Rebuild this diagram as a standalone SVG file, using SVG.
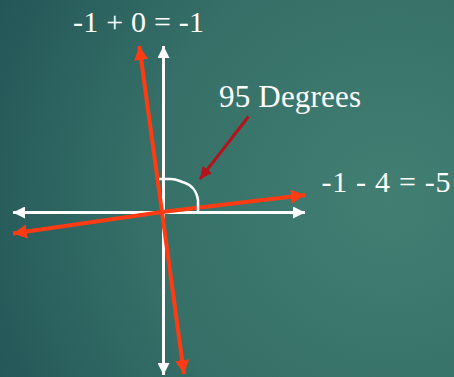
<svg xmlns="http://www.w3.org/2000/svg" width="454" height="377" viewBox="0 0 454 377">
<defs>
<radialGradient id="bg" cx="390" cy="200" r="500" gradientUnits="userSpaceOnUse">
<stop offset="0" stop-color="#427F72"/>
<stop offset="0.5" stop-color="#356F67"/>
<stop offset="1" stop-color="#1D4E53"/>
</radialGradient>
<marker id="wh" markerUnits="userSpaceOnUse" markerWidth="14" markerHeight="12" refX="12" refY="6" orient="auto">
<path d="M0,0 L12,6 L0,12 Z" fill="#FFFFFF"/>
</marker>
<marker id="rh" markerUnits="userSpaceOnUse" markerWidth="16" markerHeight="14" refX="14" refY="7" orient="auto">
<path d="M0,0 L14,7 L0,14 Z" fill="#FF3B14"/>
</marker>
<marker id="dh" markerUnits="userSpaceOnUse" markerWidth="14" markerHeight="12" refX="12" refY="6" orient="auto">
<path d="M0,0 L12,6 L0,12 Z" fill="#B3141C"/>
</marker>
<style>
.ax{stroke:#FFFFFF;stroke-width:3;fill:none}
.rd{stroke:#FF3B14;stroke-width:4;fill:none}
</style>
</defs>
<rect width="454" height="377" fill="url(#bg)"/>
<g id="connectors">
<line class="ax" x1="163.5" y1="212.5" x2="13" y2="212.5" marker-end="url(#wh)"/>
<line class="ax" x1="163.5" y1="212.5" x2="305" y2="212.5" marker-end="url(#wh)"/>
<line class="ax" x1="163.5" y1="212.5" x2="163.5" y2="46" marker-end="url(#wh)"/>
<line class="ax" x1="163.5" y1="212.5" x2="163.5" y2="375" marker-end="url(#wh)"/>
<line class="rd" x1="162" y1="212" x2="139.3" y2="46" marker-end="url(#rh)"/>
<line class="rd" x1="162" y1="212" x2="184" y2="374" marker-end="url(#rh)"/>
<line class="rd" x1="162" y1="212" x2="13" y2="233.5" marker-end="url(#rh)"/>
<line class="rd" x1="162" y1="212" x2="305" y2="195" marker-end="url(#rh)"/>
<path id="angle" d="M159,179 L171,179 C177,179 179,181 184,182.5 C192,185 197,192 198,200 L198,211" stroke="#FFFFFF" stroke-width="2.5" fill="none"/>
<line x1="248.5" y1="116.5" x2="200" y2="179" stroke="#B3141C" stroke-width="3" marker-end="url(#dh)"/>
</g>
<g id="labels" font-family="'Liberation Serif', 'DejaVu Serif', serif" fill="#FFFFFF">
<g id="label-top"><text x="73" y="32" font-size="30" textLength="131" lengthAdjust="spacing">-1 + 0 = -1</text></g>
<g id="label-degrees"><text x="219" y="107" font-size="31" textLength="142" lengthAdjust="spacing">95 Degrees</text></g>
<g id="label-right"><text x="321.5" y="191.5" font-size="30" textLength="129" lengthAdjust="spacing">-1 - 4 = -5</text></g>
</g>
</svg>
